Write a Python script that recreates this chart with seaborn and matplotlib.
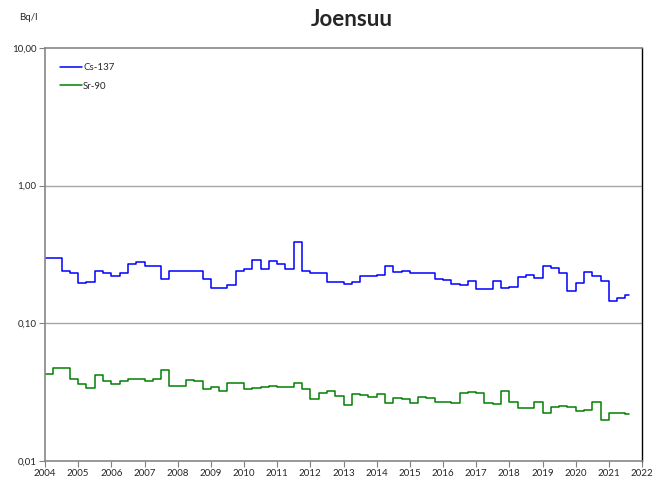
import numpy as np
import pandas as pd
import seaborn as sns
import matplotlib.pyplot as plt
from matplotlib.ticker import FixedLocator, FuncFormatter

# quarterly values, first quarter starts 2004.0
start_year = 2004
end_date = 2021.62  # last sample drawn up to here

cs137 = [0.299, 0.299, 0.239, 0.233, 0.197, 0.200, 0.241, 0.233, 0.219, 0.231,
         0.271, 0.278, 0.262, 0.262, 0.211, 0.241, 0.241, 0.241, 0.241, 0.211,
         0.180, 0.180, 0.191, 0.241, 0.249, 0.290, 0.249, 0.283, 0.272, 0.250,
         0.391, 0.241, 0.233, 0.233, 0.200, 0.200, 0.193, 0.200, 0.222, 0.219,
         0.223, 0.262, 0.237, 0.241, 0.233, 0.231, 0.233, 0.211, 0.208, 0.193,
         0.189, 0.204, 0.179, 0.177, 0.204, 0.181, 0.185, 0.218, 0.224, 0.214,
         0.260, 0.253, 0.233, 0.173, 0.197, 0.237, 0.219, 0.203, 0.145, 0.152,
         0.161]

sr90 = [0.0427, 0.0470, 0.0470, 0.0391, 0.0360, 0.0338, 0.0418, 0.0380, 0.0360, 0.0380,
        0.0391, 0.0391, 0.0380, 0.0397, 0.0462, 0.0349, 0.0349, 0.0388, 0.0380, 0.0331,
        0.0347, 0.0320, 0.0369, 0.0369, 0.0334, 0.0340, 0.0344, 0.0349, 0.0344, 0.0347,
        0.0366, 0.0334, 0.0281, 0.0310, 0.0320, 0.0299, 0.0255, 0.0306, 0.0301, 0.0292,
        0.0306, 0.0265, 0.0285, 0.0281, 0.0266, 0.0292, 0.0285, 0.0269, 0.0269, 0.0265,
        0.0311, 0.0316, 0.0311, 0.0262, 0.0259, 0.0324, 0.0269, 0.0241, 0.0241, 0.0269,
        0.0225, 0.0248, 0.0252, 0.0246, 0.0232, 0.0236, 0.0269, 0.0199, 0.0222, 0.0225,
        0.0219]

years = list(range(2004, 2023))
y_ticks = [0.01, 0.1, 1, 10]

# build long table, repeat last value at end_date so the last step has width
t = [start_year + i / 4 for i in range(len(cs137))] + [end_date]
df = pd.concat([
    pd.DataFrame({"t": t, "val": cs137 + [cs137[-1]], "nuklidi": "Cs-137"}),
    pd.DataFrame({"t": t, "val": sr90 + [sr90[-1]], "nuklidi": "Sr-90"}),
])

sns.set_style("white")
plt.rcParams["font.family"] = ["Lato", "DejaVu Sans"]

fig = plt.figure(figsize=(6.53, 4.8), dpi=100)
ax = fig.add_axes([45 / 653, 1 - 461 / 480, (642 - 45) / 653, (461 - 48) / 480])

sns.lineplot(data=df, x="t", y="val", hue="nuklidi",
             palette={"Cs-137": "#0000ff", "Sr-90": "#008000"},
             drawstyle="steps-post", linewidth=1.1, ax=ax, estimator=None)

ax.set_yscale("log")
ax.set_ylim(0.01, 10)
ax.set_xlim(2004, 2022)
ax.yaxis.set_major_locator(FixedLocator(y_ticks))
ax.yaxis.set_minor_locator(FixedLocator([]))
ax.yaxis.set_major_formatter(FuncFormatter(lambda v, p: f"{v:.2f}".replace(".", ",")))
ax.set_xticks(years)
ax.set_xticklabels([str(y) for y in years])
ax.tick_params(axis="both", labelsize=7, length=4, width=0.8, color="#808080",
               direction="out", left=True, bottom=True, pad=2)
ax.set_xlabel("")
ax.set_ylabel("")

for yv in [0.1, 1]:
    ax.axhline(yv, color="#a6a6a6", linewidth=1, zorder=0)

for s in ["left", "top", "bottom"]:
    ax.spines[s].set_color("#868686")
    ax.spines[s].set_linewidth(1.2)
ax.spines["right"].set_color("black")
ax.spines["right"].set_linewidth(1.0)

leg = ax.legend(loc="upper left", frameon=False, fontsize=7, handlelength=2.3,
                handletextpad=0.1, labelspacing=1.0, bbox_to_anchor=(0.01, 0.985))

fig.text(352 / 653, 1 - 20 / 480, "Joensuu", ha="center", va="center",
         fontsize=16, fontweight="bold")
fig.text(28 / 653, 1 - 18 / 480, "Bq/l", ha="center", va="center", fontsize=7)

fig.savefig("out.png", dpi=100)
